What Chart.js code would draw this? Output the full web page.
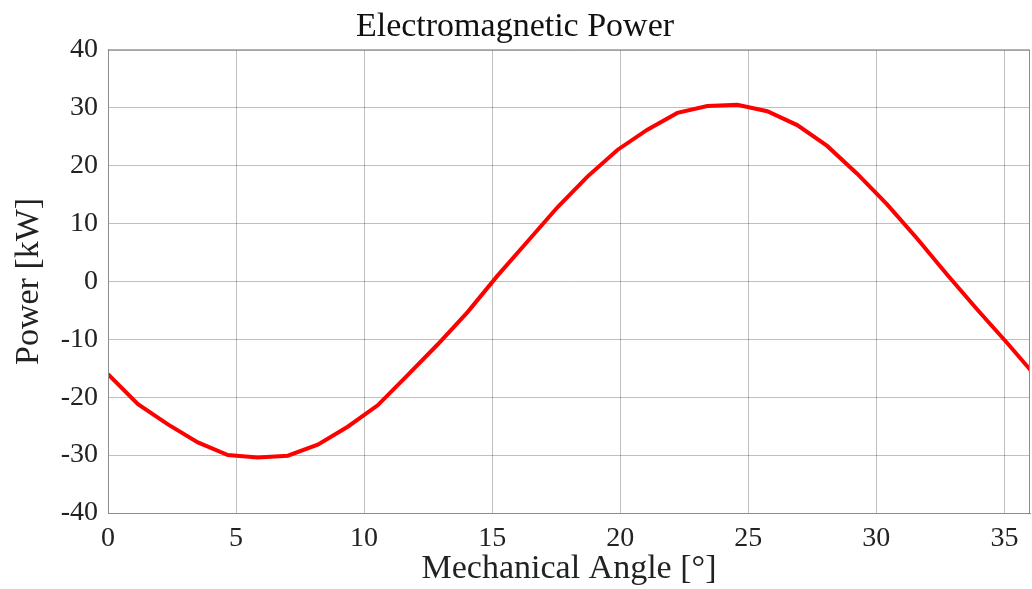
<!DOCTYPE html>
<html>
<head>
<meta charset="utf-8">
<script src="https://cdn.jsdelivr.net/npm/chart.js@4.4.1/dist/chart.umd.min.js"></script>
<style>
  html, body { margin: 0; padding: 0; background: #fff; }
  #wrap { width: 1032px; height: 589px; }
</style>
</head>
<body>
<div id="wrap"><canvas id="chart"></canvas></div>
<script>
// mechanical angle in degrees
const angles = [0, 1.17, 2.34, 3.51, 4.68, 5.85, 7.02, 8.19, 9.36, 10.53, 11.7, 12.87,
  14.04, 15.21, 16.38, 17.55, 18.72, 19.89, 21.06, 22.23, 23.4, 24.57, 25.74,
  26.91, 28.08, 29.25, 30.42, 31.59, 32.76, 33.93, 35.1, 36.27];
// electromagnetic power in kW
const power = [-16.0, -21.2, -24.7, -27.8, -30.0, -30.4, -30.1, -28.2, -25.1, -21.4,
  -16.2, -10.9, -5.3, 1.0, 6.9, 12.8, 18.1, 22.7, 26.2, 29.1, 30.3, 30.5, 29.4,
  27.0, 23.4, 18.6, 13.3, 7.4, 1.2, -4.8, -10.6, -16.6];
const xTicks = [0, 5, 10, 15, 20, 25, 30, 35];
const yTicks = [-40, -30, -20, -10, 0, 10, 20, 30, 40];

const font = "'Liberation Serif', 'Times New Roman', serif";
const ctx = document.getElementById('chart');

// thin box round the plot area
const frame = {
  id: 'frame',
  afterDraw(chart) {
    const a = chart.chartArea, c = chart.ctx;
    c.save();
    c.strokeStyle = '#8c8c8c';
    c.lineWidth = 1;
    c.strokeRect(a.left + 0.5, a.top + 0.5, a.right - a.left - 1, a.bottom - a.top);
    c.restore();
  }
};

new Chart(ctx, {
  type: 'line',
  data: {
    datasets: [{
      label: 'Power',
      data: angles.map((a, i) => ({ x: a, y: power[i] })),
      borderColor: '#ff0000',
      borderWidth: 4,
      pointRadius: 0,
      tension: 0,
      fill: false
    }]
  },
  options: {
    responsive: true,
    maintainAspectRatio: false,
    animation: false,
    layout: { padding: { left: 0, right: 2, top: 0, bottom: 0 } },
    plugins: {
      legend: { display: false },
      tooltip: { enabled: false },
      title: {
        display: true,
        text: 'Electromagnetic Power',
        color: '#111',
        font: { family: font, size: 34, weight: 'normal' },
        padding: { top: 7, bottom: 2 }
      }
    },
    scales: {
      x: {
        type: 'linear',
        min: 0,
        max: 36,
        afterFit: s => { s.height = 76; },
        afterBuildTicks: s => { s.ticks = xTicks.map(v => ({ value: v })); },
        border: { color: '#8c8c8c' },
        grid: { color: 'rgba(0,0,0,0.25)', drawTicks: false },
        ticks: { color: '#222', padding: 9, font: { family: font, size: 28 } },
        title: {
          display: true,
          text: 'Mechanical Angle [°]',
          color: '#222',
          font: { family: font, size: 34 },
          padding: { top: 0, bottom: 0 }
        }
      },
      y: {
        min: -40,
        max: 40,
        afterFit: s => { s.width = 108; },
        afterBuildTicks: s => { s.ticks = yTicks.map(v => ({ value: v })); },
        border: { color: '#8c8c8c' },
        grid: { color: 'rgba(0,0,0,0.25)', drawTicks: false },
        ticks: { color: '#222', padding: 10, font: { family: font, size: 28 } },
        title: {
          display: true,
          text: 'Power [kW]',
          color: '#222',
          font: { family: font, size: 34 },
          padding: { top: 9, bottom: 0 }
        }
      }
    }
  },
  plugins: [frame]
});
</script>
</body>
</html>
